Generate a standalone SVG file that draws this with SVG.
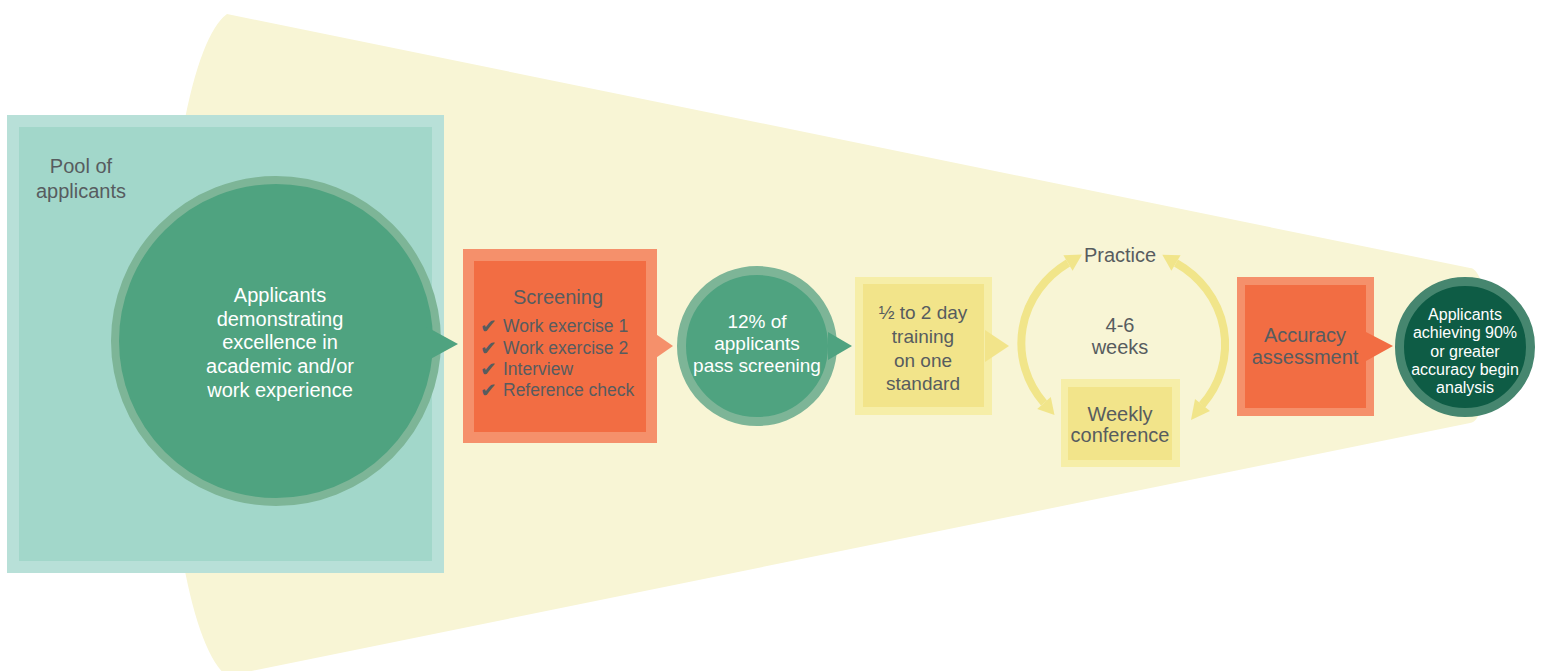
<svg xmlns="http://www.w3.org/2000/svg" width="1541" height="671" viewBox="0 0 1541 671">
<style>
.t{font-family:"Liberation Sans",Arial,sans-serif;font-size:20px;fill:#575c5f;text-anchor:middle}
.w{fill:#ffffff}
.l{text-anchor:start;font-size:17.5px}
.ck{font-family:"DejaVu Sans",sans-serif;font-size:20px;font-weight:bold;fill:#575c5f}
.cyc{fill:none;stroke:#f1e58a;stroke-width:8}
.cyh{fill:#f1e58a}
</style>
<rect x="0" y="0" width="1541" height="671" fill="#ffffff"/>
<g id="funnel">
<path d="M 227,14 A 72 335 0 0 0 227,676 L 1470,423 A 20 77.5 0 0 0 1470,268 Z" fill="#f8f5d5"/>
</g>
<g id="pool">
<rect x="7" y="115" width="437" height="458" fill="#b8e0d8"/>
<rect x="19" y="127" width="413" height="434" fill="#a2d7ca"/>
<text class="t" x="81" y="173">Pool of</text>
<text class="t" x="81" y="198">applicants</text>
</g>
<g id="applicants">
<circle cx="276" cy="341" r="161" fill="#4fa380" stroke="#7db597" stroke-width="8"/>
<text class="t w" x="280" y="302">Applicants</text>
<text class="t w" x="280" y="326">demonstrating</text>
<text class="t w" x="280" y="349">excellence in</text>
<text class="t w" x="280" y="373">academic and/or</text>
<text class="t w" x="280" y="397">work experience</text>
</g>
<g id="screening">
<rect x="463" y="249" width="194" height="194" fill="#f5906b"/>
<rect x="474" y="261" width="172" height="171" fill="#f26d43"/>
<text class="t" x="558" y="304">Screening</text>
<text class="ck" x="480" y="333">✔</text>
<text class="ck" x="480" y="355">✔</text>
<text class="ck" x="480" y="376">✔</text>
<text class="ck" x="480" y="397">✔</text>
<text class="t l" x="503" y="332">Work exercise 1</text>
<text class="t l" x="503" y="354">Work exercise 2</text>
<text class="t l" x="503" y="375">Interview</text>
<text class="t l" x="503" y="396">Reference check</text>
</g>
<g id="pass">
<circle cx="757" cy="346" r="75.5" fill="#4fa380" stroke="#7db597" stroke-width="9"/>
<text class="t w" x="757" y="328" style="font-size:19px">12% of</text>
<text class="t w" x="757" y="350" style="font-size:19px">applicants</text>
<text class="t w" x="757" y="372" style="font-size:19px">pass screening</text>
</g>
<g id="training">
<rect x="855" y="277" width="137" height="138" fill="#f6eea8"/>
<rect x="863" y="284" width="121" height="123" fill="#f2e48a"/>
<text class="t" x="923" y="319" style="font-size:19px">½ to 2 day</text>
<text class="t" x="923" y="343" style="font-size:19px">training</text>
<text class="t" x="923" y="367" style="font-size:19px">on one</text>
<text class="t" x="923" y="390" style="font-size:19px">standard</text>
</g>
<g id="practice">
<text class="t" x="1120" y="262">Practice</text>
<text class="t" x="1120" y="332">4-6</text>
<text class="t" x="1120" y="354">weeks</text>
</g>
<g id="conference">
<rect x="1061" y="379" width="119" height="88" fill="#f6eea8"/>
<rect x="1068" y="387" width="104" height="73" fill="#f2e48a"/>
<text class="t" x="1120" y="421">Weekly</text>
<text class="t" x="1120" y="442">conference</text>
</g>
<g id="accuracy">
<rect x="1237" y="277" width="137" height="139" fill="#f5906b"/>
<rect x="1245" y="285" width="121" height="123" fill="#f26d43"/>
<text class="t" x="1305" y="342">Accuracy</text>
<text class="t" x="1305" y="364">assessment</text>
</g>
<g id="analysis">
<circle cx="1465" cy="347" r="65.5" fill="#0e5c45" stroke="#46866f" stroke-width="9"/>
<text class="t w" x="1465" y="320" style="font-size:16px">Applicants</text>
<text class="t w" x="1465" y="338" style="font-size:16px">achieving 90%</text>
<text class="t w" x="1465" y="357" style="font-size:16px">or greater</text>
<text class="t w" x="1465" y="375" style="font-size:16px">accuracy begin</text>
<text class="t w" x="1465" y="393" style="font-size:16px">analysis</text>
</g>
<g id="connectors">
<polygon points="425,326 458,344 425,362" fill="#4fa380"/>
<polygon points="650,330 673,346 650,362" fill="#f5906b"/>
<polygon points="828,332 852,346 828,360" fill="#4fa380"/>
<polygon points="985,330 1009,346 985,362" fill="#f2e48a"/>
<polygon points="1366,332 1393,346 1366,361" fill="#f26d43"/>
<path class="cyc" d="M 1068,263 A 101 95 0 0 0 1044,403"/>
<polygon class="cyh" points="1082,254.5 1063.4,255.3 1072.6,270.7"/>
<polygon class="cyh" points="1054.5,415 1050.8,397.1 1037.2,408.9"/>
<path class="cyc" d="M 1176,263 A 101 95 0 0 1 1202,405"/>
<polygon class="cyh" points="1162.3,254.8 1180.6,255.3 1171.4,270.7"/>
<polygon class="cyh" points="1191,420 1195,399 1210,411"/>
</g>
</svg>
